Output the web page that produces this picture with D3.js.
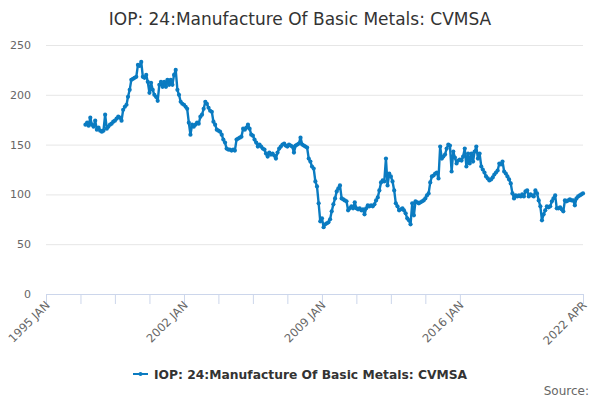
<!DOCTYPE html>
<html>
<head>
<meta charset="utf-8">
<script src="https://cdn.jsdelivr.net/npm/d3@7"></script>
<style>
  body { margin: 0; background: #fff; }
  svg { font-family: "DejaVu Sans", sans-serif; }
</style>
</head>
<body>
<script>

// monthly values, one row per year, starting 1997 JAN
var startYear = 1997;
var values = [
    170, 172, 169, 177, 170, 168, 174, 165, 167, 164, 163, 164,
    180, 166, 168, 170, 171, 173, 174, 176, 178, 177, 174, 185,
    188, 190, 198, 205, 215, 216, 217, 218, 230, 229, 233, 218,
    217, 220, 213, 202, 212, 205, 200, 198, 194, 210, 213, 208,
    213, 208, 215, 210, 215, 210, 220, 225, 205, 200, 193, 191,
    190, 188, 186, 172, 160, 170, 168, 170, 172, 171, 178, 180,
    186, 193, 191, 187, 184, 183, 173, 170, 165, 164, 163, 160,
    155, 152, 146, 145, 145, 144, 145, 144, 155, 156, 157, 158,
    166, 165, 167, 170, 166, 160, 159, 155, 152, 148, 150, 148,
    146, 145, 141, 138, 142, 140, 141, 139, 136, 142, 146, 148,
    150, 151, 149, 148, 150, 149, 148, 142, 149, 150, 151, 157,
    150, 149, 148, 147, 136, 133, 128, 126, 113, 108, 91, 73,
    76, 67, 70, 71, 72, 75, 83, 90, 96, 103, 106, 109,
    96, 95, 94, 93, 84, 86, 88, 86, 92, 86, 85, 86,
    84, 85, 80, 86, 89, 88, 89, 88, 90, 94, 97, 104,
    112, 114, 113, 136, 109, 121, 118, 113, 104, 91, 88, 84,
    85, 86, 84, 81, 76, 74, 70, 91, 79, 93, 92, 91,
    92, 93, 94, 96, 99, 101, 112, 118, 119, 121, 122, 116,
    148, 136, 138, 140, 146, 150, 149, 123, 143, 137, 131, 134,
    135, 134, 138, 146, 128, 141, 131, 141, 133, 143, 148, 136,
    141, 128, 125, 122, 118, 116, 114, 115, 117, 120, 122, 124,
    131, 130, 133, 123, 121, 118, 115, 111, 101, 96, 99, 98,
    99, 98, 100, 98, 103, 104, 98, 100, 99, 98, 104, 101,
    94, 88, 74, 80, 84, 88, 87, 88, 93, 96, 99, 86,
    86, 87, 85, 83, 94, 93, 94, 95, 94, 94, 89, 96,
    98, 99, 100, 101
];

var yTicks = [0, 50, 100, 150, 200, 250];
var xLabels = ["1995 JAN", "2002 JAN", "2009 JAN", "2016 JAN", "2022 APR"];
var seriesName = "IOP: 24:Manufacture Of Basic Metals: CVMSA";

var data = values.map(function (v, i) {
    return { date: new Date(startYear, i, 1), value: v };
});

var width = 600, height = 400;
var plotLeft = 46, plotRight = 583, plotTop = 45, plotBottom = 294;

var svg = d3.select("body").append("svg")
    .attr("width", width)
    .attr("height", height);

var x = d3.scaleTime()
    .domain([new Date(1995, 0, 1), new Date(2022, 3, 1)])
    .range([plotLeft, plotRight]);

var y = d3.scaleLinear()
    .domain([0, 250])
    .range([plotBottom, plotTop]);

// title
svg.append("text").text(seriesName)
    .attr("x", width / 2).attr("y", 25)
    .attr("text-anchor", "middle")
    .attr("font-size", "17px")
    .attr("fill", "#333");

// grid lines + y labels
var yAxis = svg.append("g")
    .attr("transform", "translate(" + plotLeft + ",0)")
    .call(d3.axisLeft(y).tickValues(yTicks).tickSize(-(plotRight - plotLeft)).tickPadding(15));
yAxis.select(".domain").remove();
yAxis.selectAll(".tick line").attr("stroke", "#e6e6e6");
yAxis.selectAll(".tick text")
    .attr("fill", "#666").attr("font-size", "11px")
    .attr("font-family", "DejaVu Sans, sans-serif");

// x axis ticks every 21 months, last one at the end
var xTicks = [];
for (var i = 0; i <= 12; i++) {
    xTicks.push(d3.timeMonth.offset(new Date(1995, 0, 1), 21 * i));
}
xTicks.push(new Date(2022, 3, 1));

var xAxis = svg.append("g")
    .attr("transform", "translate(0," + plotBottom + ")")
    .call(d3.axisBottom(x).tickValues(xTicks).tickSize(10).tickFormat(function (d) {
        var fmt = d3.timeFormat("%Y %b")(d).toUpperCase();
        return xLabels.indexOf(fmt) >= 0 ? fmt : "";
    }));
xAxis.select(".domain").attr("stroke", "#ccd6eb").attr("d", "M" + plotLeft + ",0.5H" + plotRight);
xAxis.selectAll(".tick line").attr("stroke", "#ccd6eb");
xAxis.selectAll(".tick text")
    .attr("fill", "#666").attr("font-size", "11.5px")
    .attr("font-family", "DejaVu Sans, sans-serif")
    .attr("text-anchor", "end")
    .attr("dy", null)
    .attr("transform", "translate(4,12) rotate(-45)")
    .attr("y", 0).attr("x", 0);

// series line
var line = d3.line()
    .x(function (d) { return x(d.date); })
    .y(function (d) { return y(d.value); });

var color = "#0a7bc1";

svg.append("path").datum(data)
    .attr("d", line)
    .attr("fill", "none")
    .attr("stroke", color)
    .attr("stroke-width", 2.4)
    .attr("stroke-linejoin", "round");

svg.append("g").selectAll("circle").data(data).enter().append("circle")
    .attr("cx", function (d) { return x(d.date); })
    .attr("cy", function (d) { return y(d.value); })
    .attr("r", 2.1)
    .attr("fill", color);

// legend
var legend = svg.append("g").attr("transform", "translate(133,374)");
legend.append("line")
    .attr("x1", 0).attr("x2", 15).attr("y1", 0).attr("y2", 0)
    .attr("stroke", color).attr("stroke-width", 2);
legend.append("circle").attr("cx", 7.5).attr("cy", 0).attr("r", 2).attr("fill", color);
legend.append("text").text(seriesName)
    .attr("x", 21).attr("y", 4.5)
    .attr("font-size", "12.3px").attr("font-weight", "bold")
    .attr("fill", "#333");

svg.append("text").text("Source:")
    .attr("x", 589).attr("y", 395)
    .attr("text-anchor", "end")
    .attr("font-size", "12px")
    .attr("fill", "#666");

</script>
</body>
</html>
